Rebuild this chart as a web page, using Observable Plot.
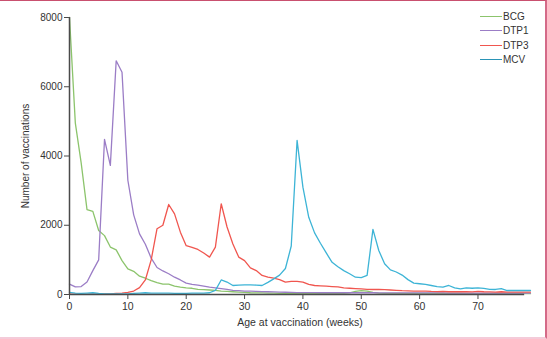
<!DOCTYPE html>
<html>
<head>
<meta charset="utf-8">
<script src="https://cdn.jsdelivr.net/npm/d3@7"></script>
<script src="https://cdn.jsdelivr.net/npm/@observablehq/plot@0.6"></script>
<style>
  html, body { margin: 0; padding: 0; background: #fff; }
  #wrap { position: relative; width: 547px; height: 339px; overflow: hidden; background: #fff; }
  #frame { position: absolute; left: 0; top: 0; width: 547px; height: 339px; box-sizing: border-box;
    border-top: 1px solid #c9506f; border-right: 2px solid #d46a88; border-bottom: 2px solid #f4cbd9; pointer-events: none; }
  #legend { position: absolute; left: 480px; top: 9px; font: 10px "Liberation Sans Narrow", "Liberation Sans", sans-serif; color: #333; }
  #legend .row { display: flex; align-items: center; height: 14.5px; }
  #legend .sw { width: 22px; height: 0; border-top: 1.3px solid; margin-right: 1px; }
  svg { font-family: "Liberation Sans Narrow", "Liberation Sans", sans-serif; }
</style>
</head>
<body>
<div id="wrap"><div id="chart"></div><div id="legend"></div><div id="frame"></div></div>
<script>
const weeks = d3.range(0, 80);
const series = ["BCG", "DTP1", "DTP3", "MCV"];
const colors = ["#8cc46c", "#9b7dc6", "#f0564f", "#3db4d6"];
const legendColors = ["#8cc46c", "#9b7dc6", "#f0564f", "#2a94b6"];
const yTicks = [0, 2000, 4000, 6000, 8000];
const xTicks = [0, 10, 20, 30, 40, 50, 60, 70];

const bcg = [8000,4950,3800,2450,2400,1850,1700,1370,1290,980,
  740,670,530,470,400,340,300,300,240,210,
  190,180,150,140,130,120,100,90,80,70,
  60,50,45,45,40,40,35,35,30,30,
  30,30,30,30,30,30,30,30,50,90,
  110,100,60,40,30,30,30,30,30,30,
  30,30,30,30,30,30,30,30,25,25,
  25,25,25,25,25,25,25,25,25,25];
const dtp1 = [300,220,230,360,690,1000,4480,3730,6750,6420,
  3300,2300,1750,1450,1050,780,680,600,500,420,
  330,290,270,240,210,190,170,150,120,110,
  100,95,90,85,80,75,70,65,60,55,
  55,55,55,50,50,50,50,50,50,50,
  50,50,50,45,45,45,45,45,45,45,
  45,45,45,45,45,40,40,40,40,40,
  40,40,40,40,40,40,40,40,40,40];
const dtp3 = [10,10,5,5,10,10,15,20,30,40,
  60,100,200,420,1000,1900,2000,2600,2330,1800,
  1410,1360,1300,1200,1080,1370,2620,1950,1460,1080,
  980,770,690,550,500,470,430,360,380,380,
  360,290,260,250,240,230,220,190,180,170,
  160,150,145,150,140,130,120,110,105,100,
  95,100,90,85,90,80,85,80,80,75,
  90,80,75,70,80,70,70,70,70,70];
const mcv = [60,40,30,40,50,30,20,20,20,20,
  20,30,40,50,40,40,40,40,30,30,
  30,40,40,40,50,120,420,360,260,270,
  280,280,270,260,350,450,560,750,1400,4450,
  3100,2230,1780,1480,1200,930,800,690,600,500,
  490,550,1880,1270,890,710,650,560,430,330,
  310,290,260,230,210,260,190,160,190,180,
  190,175,150,145,170,115,115,115,115,115];

const values = [bcg, dtp1, dtp3, mcv];
const data = [];
series.forEach((s, i) => weeks.forEach((w, j) => data.push({vaccine: s, week: w, count: values[i][j]})));

const axisColor = "#4a4a4a";
const textColor = "#333";

const chart = Plot.plot({
  width: 547,
  height: 339,
  marginLeft: 69,
  marginRight: 17,
  marginTop: 17,
  marginBottom: 45,
  style: { fontSize: "10px", color: textColor, background: "transparent" },
  x: { domain: [0, 79] },
  y: { domain: [0, 8000] },
  color: { domain: series, range: colors },
  marks: [
    Plot.axisY({ ticks: yTicks, tickSize: 5, tickPadding: 2, tickFormat: d => String(d), stroke: axisColor,
      label: "Number of vaccinations", labelAnchor: "center", labelOffset: 48, labelArrow: false, fontSize: 10 }),
    Plot.axisX({ ticks: xTicks, tickSize: 5, tickPadding: 3, stroke: axisColor,
      label: "Age at vaccination (weeks)", labelAnchor: "center", labelOffset: 31, labelArrow: false, fontSize: 10.5 }),
    Plot.line(data, { x: "week", y: "count", z: "vaccine", stroke: "vaccine", strokeWidth: 1.3, strokeLinejoin: "round" }),
    Plot.ruleX([0], { y1: 0, y2: 8000, stroke: axisColor, strokeWidth: 1.5 }),
    Plot.ruleY([0], { x1: 0, x2: 78, stroke: axisColor, strokeWidth: 1.5 })
  ]
});
document.getElementById("chart").appendChild(chart);

const legend = document.getElementById("legend");
series.forEach((s, i) => {
  const row = document.createElement("div");
  row.className = "row";
  const sw = document.createElement("span");
  sw.className = "sw";
  sw.style.borderTopColor = legendColors[i];
  const t = document.createElement("span");
  t.textContent = s;
  row.appendChild(sw); row.appendChild(t);
  legend.appendChild(row);
});
</script>
</body>
</html>
